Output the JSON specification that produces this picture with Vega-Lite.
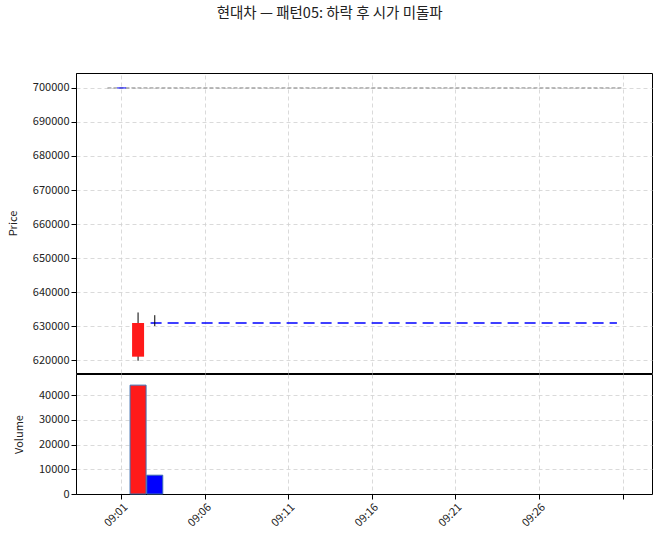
{
  "$schema": "https://vega.github.io/schema/vega-lite/v6.json",
  "padding": {"left": 6, "top": 6, "right": 8, "bottom": 0},
  "title": {
    "text": "현대차 — 패턴05: 하락 후 시가 미돌파",
    "font": "Noto Sans CJK KR",
    "fontSize": 14.5,
    "fontWeight": "normal",
    "color": "#222222",
    "anchor": "middle",
    "offset": 51
  },
  "datasets": {
    "candles": [
      {"t": "2024-01-02T09:02:00", "open": 621000, "high": 634000, "low": 619800, "close": 630900, "volume": 44000, "dir": "up"},
      {"t": "2024-01-02T09:03:00", "open": 630900, "high": 633200, "low": 630000, "close": 630900, "volume": 7600, "dir": "down"}
    ],
    "levels": [
      {"start": "2024-01-02T09:00:10", "end": "2024-01-02T09:31:00", "price": 700000, "kind": "gray"},
      {"start": "2024-01-02T09:00:45", "end": "2024-01-02T09:01:17", "price": 700000, "kind": "blue"},
      {"start": "2024-01-02T09:02:45", "end": "2024-01-02T09:30:40", "price": 630900, "kind": "bluedash"}
    ]
  },
  "config": {
    "font": "Noto Sans CJK KR",
    "view": {"stroke": "black", "strokeWidth": 1},
    "axis": {
      "gridDash": [4, 3],
      "gridColor": "#d0d0d0",
      "gridWidth": 0.8,
      "domainColor": "black",
      "tickColor": "black",
      "labelFontSize": 11,
      "labelColor": "#222222",
      "titleFontSize": 11,
      "titleFontWeight": "normal",
      "titleColor": "#222222"
    },
    "axisY": {"titlePadding": 14}
  },
  "spacing": -3,
  "vconcat": [
    {
      "width": 576,
      "height": 300,
      "encoding": {
        "x": {"type": "temporal", "scale": {"domain": [{"year": 2024, "month": 1, "date": 2, "hours": 8, "minutes": 58, "seconds": 35}, {"year": 2024, "month": 1, "date": 2, "hours": 9, "minutes": 32, "seconds": 28}]},
          "axis": {"values": [{"year": 2024, "month": 1, "date": 2, "hours": 9, "minutes": 1}, {"year": 2024, "month": 1, "date": 2, "hours": 9, "minutes": 6}, {"year": 2024, "month": 1, "date": 2, "hours": 9, "minutes": 11}, {"year": 2024, "month": 1, "date": 2, "hours": 9, "minutes": 16}, {"year": 2024, "month": 1, "date": 2, "hours": 9, "minutes": 21}, {"year": 2024, "month": 1, "date": 2, "hours": 9, "minutes": 26}, {"year": 2024, "month": 1, "date": 2, "hours": 9, "minutes": 31}], "orient": "top", "labels": false, "ticks": false, "domain": false, "title": null, "minExtent": 0, "maxExtent": 0}},
        "y": {"type": "quantitative", "scale": {"domain": [616200, 704400], "nice": false, "zero": false},
          "axis": {"values": [620000, 630000, 640000, 650000, 660000, 670000, 680000, 690000, 700000], "format": "d", "title": "Price", "labelOverlap": false}}
      },
      "layer": [
        {
          "data": {"name": "levels"},
          "transform": [{"filter": "datum.kind == 'gray'"}],
          "mark": {"type": "rule", "color": "#808080", "strokeWidth": 1, "strokeDash": [4, 2]},
          "encoding": {
            "x": {"field": "start"},
            "x2": {"field": "end"},
            "y": {"field": "price"}
          }
        },
        {
          "data": {"name": "levels"},
          "transform": [{"filter": "datum.kind == 'blue'"}],
          "mark": {"type": "rule", "color": "#0000ff", "strokeWidth": 1},
          "encoding": {
            "x": {"field": "start"},
            "x2": {"field": "end"},
            "y": {"field": "price"}
          }
        },
        {
          "data": {"name": "levels"},
          "transform": [{"filter": "datum.kind == 'bluedash'"}],
          "mark": {"type": "rule", "color": "#0000ff", "strokeWidth": 1.3, "strokeDash": [11, 6]},
          "encoding": {
            "x": {"field": "start"},
            "x2": {"field": "end"},
            "y": {"field": "price"}
          }
        },
        {
          "data": {"name": "candles"},
          "mark": {"type": "rule", "color": "black", "strokeWidth": 1},
          "encoding": {
            "x": {"field": "t"},
            "y": {"field": "low"},
            "y2": {"field": "high"}
          }
        },
        {
          "data": {"name": "candles"},
          "mark": {"type": "bar", "width": 12},
          "encoding": {
            "x": {"field": "t"},
            "y": {"field": "open"},
            "y2": {"field": "close"},
            "color": {"field": "dir", "type": "nominal", "scale": {"domain": ["up", "down"], "range": ["#ff1a1a", "#0000ff"]}, "legend": null}
          }
        }
      ]
    },
    {
      "width": 576,
      "height": 120,
      "data": {"name": "candles"},
      "mark": {"type": "bar", "width": 16, "stroke": "#3d6fb0", "strokeWidth": 1},
      "encoding": {
        "x": {"field": "t", "type": "temporal", "scale": {"domain": [{"year": 2024, "month": 1, "date": 2, "hours": 8, "minutes": 58, "seconds": 35}, {"year": 2024, "month": 1, "date": 2, "hours": 9, "minutes": 32, "seconds": 28}]},
          "axis": {"values": [{"year": 2024, "month": 1, "date": 2, "hours": 9, "minutes": 1}, {"year": 2024, "month": 1, "date": 2, "hours": 9, "minutes": 6}, {"year": 2024, "month": 1, "date": 2, "hours": 9, "minutes": 11}, {"year": 2024, "month": 1, "date": 2, "hours": 9, "minutes": 16}, {"year": 2024, "month": 1, "date": 2, "hours": 9, "minutes": 21}, {"year": 2024, "month": 1, "date": 2, "hours": 9, "minutes": 26}, {"year": 2024, "month": 1, "date": 2, "hours": 9, "minutes": 31}],
            "labelExpr": "timeFormat(datum.value, '%H:%M') == '09:31' ? '' : timeFormat(datum.value, '%H:%M')",
            "labelAngle": -45, "labelAlign": "right", "labelBaseline": "top", "title": null}},
        "y": {"field": "volume", "type": "quantitative", "scale": {"domain": [0, 48500], "nice": false},
          "axis": {"values": [0, 10000, 20000, 30000, 40000], "format": "d", "title": "Volume", "labelOverlap": false}},
        "color": {"field": "dir", "type": "nominal", "scale": {"domain": ["up", "down"], "range": ["#ff0000", "#0000ff"]}, "legend": null}
      }
    }
  ]
}
